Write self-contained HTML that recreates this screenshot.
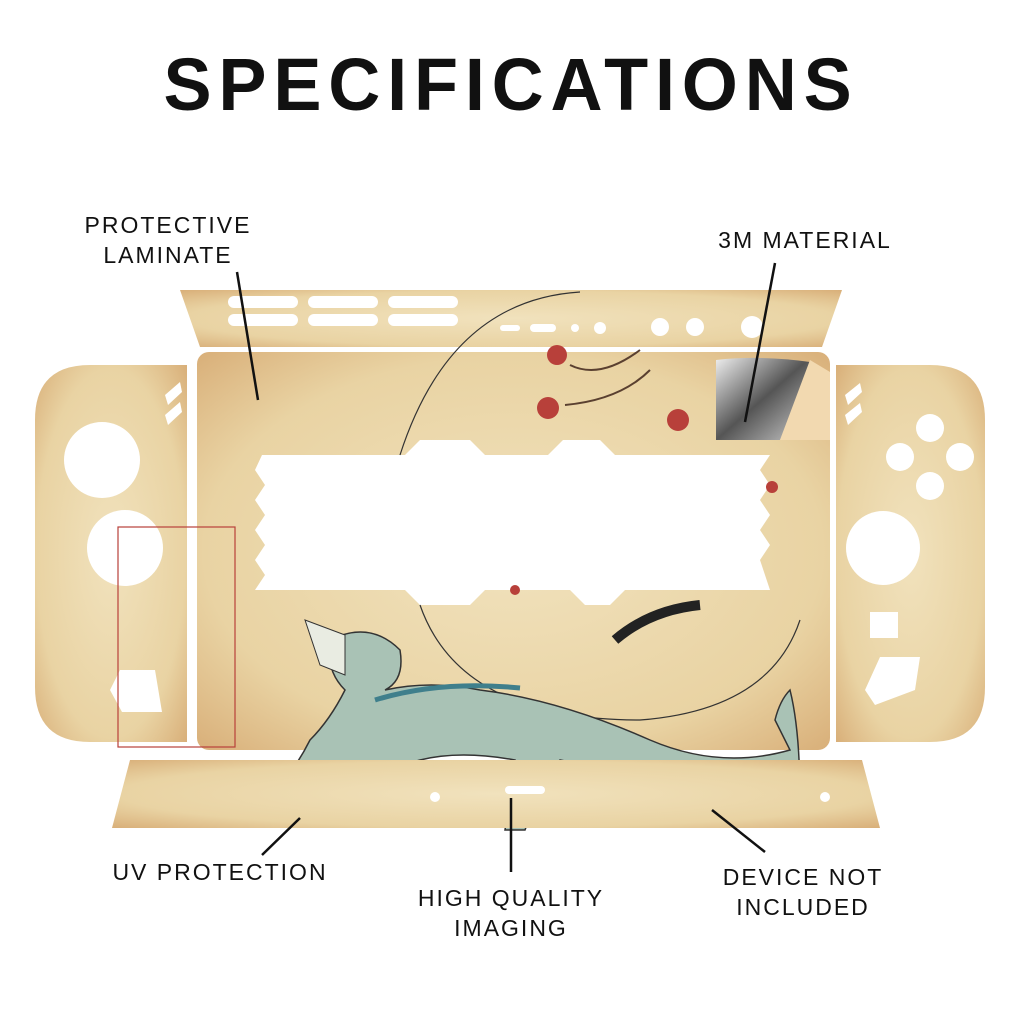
<!DOCTYPE html>
<html><head><meta charset="utf-8"><style>
html,body{margin:0;padding:0;background:#fff;}
svg{display:block}
text{font-family:"Liberation Sans",sans-serif;}
</style></head><body>
<svg width="1024" height="1024" viewBox="0 0 1024 1024" xmlns="http://www.w3.org/2000/svg">
<defs>
<radialGradient id="p" cx="50%" cy="50%" r="70%">
<stop offset="0" stop-color="#f1e2bd"/><stop offset="0.7" stop-color="#e9d3a3"/><stop offset="1" stop-color="#d9b07a"/>
</radialGradient>
<linearGradient id="m" x1="0" y1="0" x2="1" y2="1"><stop offset="0" stop-color="#eee"/><stop offset="0.5" stop-color="#555"/><stop offset="1" stop-color="#ccc"/></linearGradient>
</defs>
<text x="511" y="110" text-anchor="middle" font-size="74" font-weight="bold" letter-spacing="7" fill="#111" textLength="695" lengthAdjust="spacingAndGlyphs">SPECIFICATIONS</text>

<!-- top strip -->
<polygon points="180,290 842,290 822,347 200,347" fill="url(#p)"/>
<g fill="#fff">
<rect x="228" y="296" width="70" height="12" rx="6"/><rect x="228" y="314" width="70" height="12" rx="6"/>
<rect x="308" y="296" width="70" height="12" rx="6"/><rect x="308" y="314" width="70" height="12" rx="6"/>
<rect x="388" y="296" width="70" height="12" rx="6"/><rect x="388" y="314" width="70" height="12" rx="6"/>
<rect x="500" y="325" width="20" height="6" rx="3"/><rect x="530" y="324" width="26" height="8" rx="4"/>
<circle cx="575" cy="328" r="4"/><circle cx="600" cy="328" r="6"/>
<circle cx="660" cy="327" r="9"/><circle cx="695" cy="327" r="9"/><circle cx="752" cy="327" r="11"/>
</g>

<!-- main frame -->
<rect x="197" y="352" width="633" height="398" rx="12" fill="url(#p)"/>
<path d="M262,455 L405,455 L420,440 L470,440 L485,455 L548,455 L563,440 L600,440 L615,455 L770,455 L760,470 L770,485 L760,500 L770,515 L760,530 L770,545 L760,560 L770,590 L625,590 L610,605 L585,605 L570,590 L485,590 L470,605 L420,605 L405,590 L255,590 L265,575 L255,560 L265,545 L255,530 L265,515 L255,500 L265,485 L255,470 Z" fill="#fff"/>
<g fill="none" stroke="#333" stroke-width="1.2">
<path d="M400,455 Q450,300 580,292"/><path d="M420,605 Q460,720 640,720 Q770,710 800,620"/>
</g>
<g fill="#b8403a"><circle cx="557" cy="355" r="10"/><circle cx="548" cy="408" r="11"/><circle cx="678" cy="420" r="11"/><circle cx="772" cy="487" r="6"/><circle cx="515" cy="590" r="5"/></g>
<g stroke="#5a4030" stroke-width="2" fill="none"><path d="M570,365 Q600,380 640,350"/><path d="M565,405 Q620,400 650,370"/></g>
<path d="M615,640 Q650,610 700,605" stroke="#222" stroke-width="10" fill="none"/>
<path d="M716,360 Q760,355 810,362 L780,440 L716,440 Z" fill="url(#m)"/>
<polygon points="810,360 830,372 830,440 780,440" fill="#f2d9b0"/>
<!-- dragon -->
<g fill="#a9c2b5" stroke="#333" stroke-width="1.5">
<path d="M330,640 Q370,620 400,650 Q405,680 385,690 Q430,680 480,690 Q560,700 650,740 Q720,770 790,750 L775,720 Q780,700 790,690 Q800,730 800,800 L790,800 Q770,770 740,770 Q660,780 560,760 L540,790 L525,830 L505,830 L515,760 Q460,750 420,760 L310,790 L270,820 L255,815 L285,780 Q300,760 310,740 Q330,720 345,690 Q325,670 330,640 Z"/>
</g>
<path d="M305,620 L345,635 L345,675 L320,665 Z" fill="#e9ece2" stroke="#333" stroke-width="1"/>
<path d="M375,700 Q440,680 520,688" stroke="#3f7f8c" stroke-width="5" fill="none"/>

<!-- left joycon -->
<path d="M90,365 H187 V742 H90 Q35,742 35,687 V420 Q35,365 90,365 Z" fill="url(#p)"/>
<circle cx="102" cy="460" r="38" fill="#fff"/><circle cx="125" cy="548" r="38" fill="#fff"/>
<polygon points="120,670 155,670 162,712 122,712 110,690" fill="#fff"/>
<polygon points="165,395 180,382 182,392 168,405" fill="#fff"/><polygon points="165,415 180,402 182,412 168,425" fill="#fff"/>
<rect x="118" y="527" width="117" height="220" fill="none" stroke="#b8403a" stroke-width="1.2"/>

<!-- right joycon -->
<path d="M836,365 H930 Q985,365 985,420 V687 Q985,742 930,742 H836 Z" fill="url(#p)"/>
<g fill="#fff"><circle cx="930" cy="428" r="14"/><circle cx="900" cy="457" r="14"/><circle cx="960" cy="457" r="14"/><circle cx="930" cy="486" r="14"/>
<circle cx="883" cy="548" r="37"/><rect x="870" y="612" width="28" height="26"/><polygon points="880,657 920,657 915,690 875,705 865,690"/>
<polygon points="845,395 860,383 862,392 848,405"/><polygon points="845,415 860,403 862,412 848,425"/></g>

<!-- bottom strip -->
<polygon points="130,760 862,760 880,828 112,828" fill="url(#p)"/>
<g fill="#fff"><circle cx="435" cy="797" r="5"/><rect x="505" y="786" width="40" height="8" rx="4"/><circle cx="825" cy="797" r="5"/></g>

<!-- labels -->
<g font-size="23" fill="#111" letter-spacing="2" text-anchor="middle">
<text x="168" y="233">PROTECTIVE</text><text x="168" y="263">LAMINATE</text>
<text x="805" y="248">3M MATERIAL</text>
<text x="220" y="880">UV PROTECTION</text>
<text x="511" y="906">HIGH QUALITY</text><text x="511" y="936">IMAGING</text>
<text x="803" y="885">DEVICE NOT</text><text x="803" y="915">INCLUDED</text>
</g>
<g stroke="#111" stroke-width="2.5">
<line x1="237" y1="272" x2="258" y2="400"/>
<line x1="775" y1="263" x2="745" y2="422"/>
<line x1="300" y1="818" x2="262" y2="855"/>
<line x1="511" y1="798" x2="511" y2="872"/>
<line x1="712" y1="810" x2="765" y2="852"/>
</g>
</svg>
</body></html>
